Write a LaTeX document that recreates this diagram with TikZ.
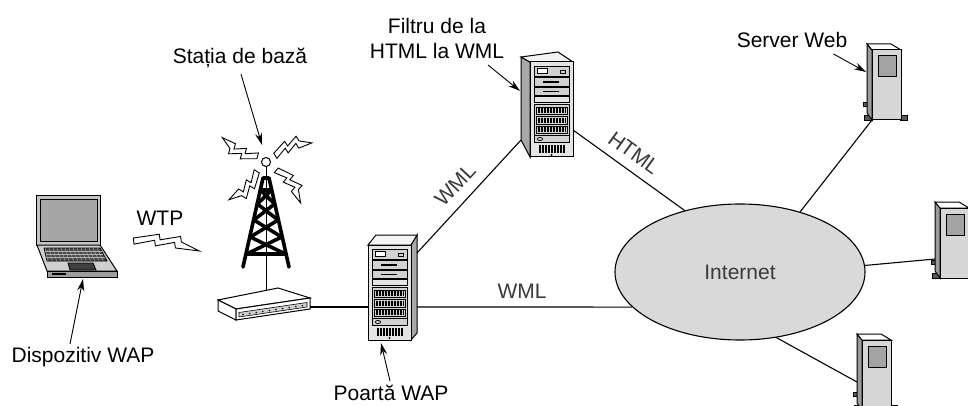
\documentclass[tikz,border=0pt]{standalone}
\usepackage{fontspec}
\setmainfont{Liberation Sans}
\usetikzlibrary{arrows.meta,shapes.geometric}

\definecolor{labelgrey}{HTML}{3A3A3A}
\definecolor{cloudfill}{HTML}{D9D9D9}
\definecolor{rackface}{HTML}{E4E4E4}
\definecolor{rackbay}{HTML}{D2D2D2}
\definecolor{rackside}{HTML}{A8A8A8}
\definecolor{racktop}{HTML}{F4F4F4}
\definecolor{towerface}{HTML}{D6D6D6}
\definecolor{towerside}{HTML}{9C9C9C}
\definecolor{towerwin}{HTML}{A3A3A3}
\definecolor{footgrey}{HTML}{5A5A5A}
\definecolor{lidgrey}{HTML}{C4C4C4}
\definecolor{screengrey}{HTML}{A6A6A6}
\definecolor{keygrey}{HTML}{4A4A4A}
\definecolor{palmgrey}{HTML}{D0D0D0}

% front panel of a rack server, 43 x 95, origin at the top left corner
\newcommand\rackfront{%
  \filldraw[fill=rackface, line width=1pt] (0,0) rectangle (43,95);
  \filldraw[fill=rackbay, line width=0.7pt] (4,4) rectangle (39,14);
  \filldraw[fill=white, line width=0.7pt] (7,6.5) rectangle (17,11.5);
  \filldraw[fill=rackbay, line width=0.7pt] (30,8) rectangle (35,11);
  \filldraw[fill=rackbay, line width=0.7pt] (4,15.5) rectangle (39,24);
  \draw[line width=1.4pt] (13,20) -- (29,20);
  \filldraw[fill=rackbay, line width=0.7pt] (4,25.5) rectangle (39,33);
  \draw[line width=1.4pt] (13,29.5) -- (29,29.5);
  \draw[line width=0.7pt] (4,34.5) rectangle (39,40);
  \filldraw[fill=rackbay, line width=0.7pt] (4,42) rectangle (39,80);
  \foreach \gy in {45,54.5,64}{
    \draw[line width=0.7pt] (6,\gy) rectangle (37,\gy+7.5);
    \foreach \gx in {8,9.5,...,35.5} \draw[line width=0.45pt] (\gx,\gy+1.2) -- (\gx,\gy+6.3);
  }
  \draw[line width=0.7pt] (4,73.5) -- (39,73.5);
  \draw[line width=0.7pt] (10,77) ellipse (2.6 and 1.6);
  \foreach \gx in {9,10.5,...,34.5} \draw[line width=0.45pt] (\gx,83) -- (\gx,91);
  \fill (21.5,93) circle (1.1);
}

% lightning bolt: start point, direction (degrees), length
\newcommand\drawbolt[4]{%
  \begin{scope}[shift={(#1,#2)}, rotate=#3]
    \filldraw[fill=white, line width=0.9pt, line join=miter]
      (0,-3) -- (0.38*#4,-9.5) -- (0.40*#4,-4) -- (0.70*#4,-9.5) -- (0.72*#4,-4)
      -- (#4,3) -- (0.64*#4,2.5) -- (0.62*#4,-3) -- (0.34*#4,2.5) -- (0.32*#4,-3)
      -- (0.02*#4,3) -- cycle;
  \end{scope}}

\tikzset{
  lbl/.style={font=\fontsize{21}{25}\selectfont, inner sep=0pt},
  greylbl/.style={lbl, text=labelgrey},
  link/.style={line width=1.1pt},
  callout/.style={line width=0.9pt, -{Stealth[length=12pt,width=7pt]}},
  rack right/.pic={
    \filldraw[fill=rackside, line width=1pt] (43,0) -- (49,-10) -- (49,88) -- (43,95) -- cycle;
    \filldraw[fill=racktop, line width=1pt] (0,0) -- (8,-10) -- (49,-10) -- (43,0) -- cycle;
    \rackfront
    \coordinate (-w) at (0,62);
    \coordinate (-e) at (49,62);
    \coordinate (-ne) at (49,8);
    \coordinate (-s) at (13,98);
  },
  rack left/.pic={
    \filldraw[fill=rackside, line width=1pt] (0,0) -- (-9,-5) -- (-9,78) -- (0,95) -- cycle;
    \filldraw[fill=racktop, line width=1pt] (0,0) -- (-9,-5) -- (28,-10) -- (43,0) -- cycle;
    \rackfront
    \coordinate (-sw) at (-9,78);
    \coordinate (-e) at (43,68);
    \coordinate (-nw) at (-10,29);
  },
  web server/.pic={
    \filldraw[fill=footgrey, line width=0.6pt] (-9,52) rectangle (-5,56);
    \filldraw[fill=footgrey, line width=0.6pt] (-8,65) rectangle (0,70);
    \filldraw[fill=footgrey, line width=0.6pt] (28,65) rectangle (35,70);
    \filldraw[fill=towerside, line width=1pt] (0,0) -- (-5,-6) -- (-5,63) -- (0,70) -- cycle;
    \filldraw[fill=white, line width=1pt] (0,0) -- (-5,-6) -- (19,-6) -- (29,0) -- cycle;
    \filldraw[fill=towerface, line width=1pt] (0,0) rectangle (29,70);
    \filldraw[fill=towerwin, line width=1pt] (6,6) rectangle (24,27);
    \coordinate (-sw) at (0,70);
    \coordinate (-nw) at (-6,22);
    \coordinate (-w) at (-5,51);
    \coordinate (-wu) at (-5,42);
  },
}

\begin{document}
\begin{tikzpicture}[x=1pt,y=-1pt]
\useasboundingbox (0,0) rectangle (968,406);
\clip (0,0) rectangle (968,406);
\fill[white] (0,0) rectangle (968,406);

% ---------- Internet cloud ----------
\node[ellipse, draw, line width=1.1pt, fill=cloudfill, minimum width=250pt,
      minimum height=136pt, greylbl] (inet) at (740,272) {Internet};

% ---------- laptop ----------
\filldraw[fill=lidgrey, line width=1pt] (36,195) rectangle (100,245);
\filldraw[fill=screengrey, line width=0.8pt] (40,199) rectangle (97,241.5);
\filldraw[fill=palmgrey, line width=1pt] (37,245) -- (100,245) -- (117,271) -- (47,271) -- cycle;
\filldraw[fill=lidgrey!80!black, line width=1pt] (47,271) -- (117,271) -- (117,277) -- (47,277) -- cycle;
\fill (52,272.5) rectangle (66,275);
\filldraw[fill=keygrey, line width=0.8pt] (44,248) -- (100,248) -- (107,261) -- (47,261) -- cycle;
\foreach \ky in {251.2,254.4,257.6}
  \draw[white!70!black, line width=0.4pt] (44+0.25*\ky-62,\ky) -- (100+0.54*\ky-134,\ky);
\foreach \kx in {0,1,...,13}
  \draw[white!70!black, line width=0.4pt] (45+4*\kx,248) -- (48+4.25*\kx,261);
\filldraw[fill=keygrey!85!black, line width=0.8pt] (68,263) -- (93,263) -- (96,270) -- (70,270) -- cycle;
\coordinate (laptop) at (83,279);

% ---------- base station ----------
\draw[line width=1pt] (266,167) -- (266,293);
\begin{scope}[line width=3.6pt, line cap=round, line join=round]
  \draw (243,267) -- (263,178) -- (269,178) -- (289,267);
  \draw (260.4,190) -- (271.6,190);
  \draw (260.4,190) -- (274.6,204) -- (253.9,220) -- (281.7,237) -- (246.6,254) -- (285.4,254);
  \draw (271.6,190) -- (257.4,204) -- (278.1,220) -- (250.3,237) -- (285.4,254);
\end{scope}
\filldraw[fill=white, line width=1pt] (266,162) circle (4.5);
\drawbolt{258}{156}{157}{40}
\drawbolt{275}{156}{24}{39}
\drawbolt{257}{171}{230}{40}
\drawbolt{276}{170}{-49}{41}
\coordinate (mast) at (262,145);

% radio modem under the mast
\filldraw[fill=white, line width=1pt] (218,300) -- (278,288) -- (310,298) -- (236,309) -- cycle;
\filldraw[fill=white, line width=1pt] (218,300) -- (236,309) -- (236,320) -- (218,311) -- cycle;
\filldraw[fill=white, line width=1pt] (236,309) -- (310,298) -- (310,309) -- (236,320) -- cycle;
\filldraw[fill=palmgrey, line width=0.6pt] (239,312.5) -- (307,302.5) -- (307,307) -- (239,317) -- cycle;
\foreach \d in {0,...,9} \fill (243+6.6*\d,314.4-0.97*\d) circle (0.9);
\coordinate (modem) at (310,307);

% WTP radio link
\drawbolt{133}{241}{-6}{67}
\node[lbl] (wtp) at (160,218) {WTP};

% ---------- servers ----------
\pic (gw) at (368,245) {rack right};
\pic (flt) at (530,62) {rack left};
\pic (ws1) at (872,50) {web server};
\pic (ws2) at (940,208) {web server};
\pic (ws3) at (862,340) {web server};

% ---------- links ----------
\draw[link] (modem) -- (gw-w);
\draw[link] (gw-e) -- (inet.198);
\draw[link] (gw-ne) -- (flt-sw);
\draw[link] (flt-e) -- (inet.132);
\draw[link] (ws1-sw) -- (inet.45);
\draw[link] (ws2-w) -- (inet.3);
\draw[link] (ws3-wu) -- (inet.-61);

\node[greylbl] (wml1) at (522,291) {WML};
\node[greylbl, rotate=47] (wml2) at (455,185) {WML};
\node[greylbl, rotate=-36] (html) at (634,153) {HTML};

% ---------- labels and callouts ----------
\node[lbl] (devlbl) at (83,357) {Dispozitiv WAP};
\draw[callout] ([xshift=-13pt,yshift=3pt]devlbl.north) -- (laptop);

\node[lbl] (baselbl) at (240,58) {Stația de bază};
\draw[callout] ([xshift=1pt,yshift=-6pt]baselbl.south) -- (mast);

\node[lbl, align=center] (fltlbl) at (437,38) {Filtru de la\\HTML la WML};
\draw[callout] (488,65) -- (flt-nw);

\node[lbl] (weblbl) at (792,40) {Server Web};
\draw[callout] ([xshift=-14pt,yshift=-6pt]weblbl.south east) -- (ws1-nw);

\node[lbl] (gwlbl) at (391,393) {Poartă WAP};
\draw[callout] ([xshift=-1pt,yshift=4pt]gwlbl.north) -- (gw-s);
\end{tikzpicture}
\end{document}
